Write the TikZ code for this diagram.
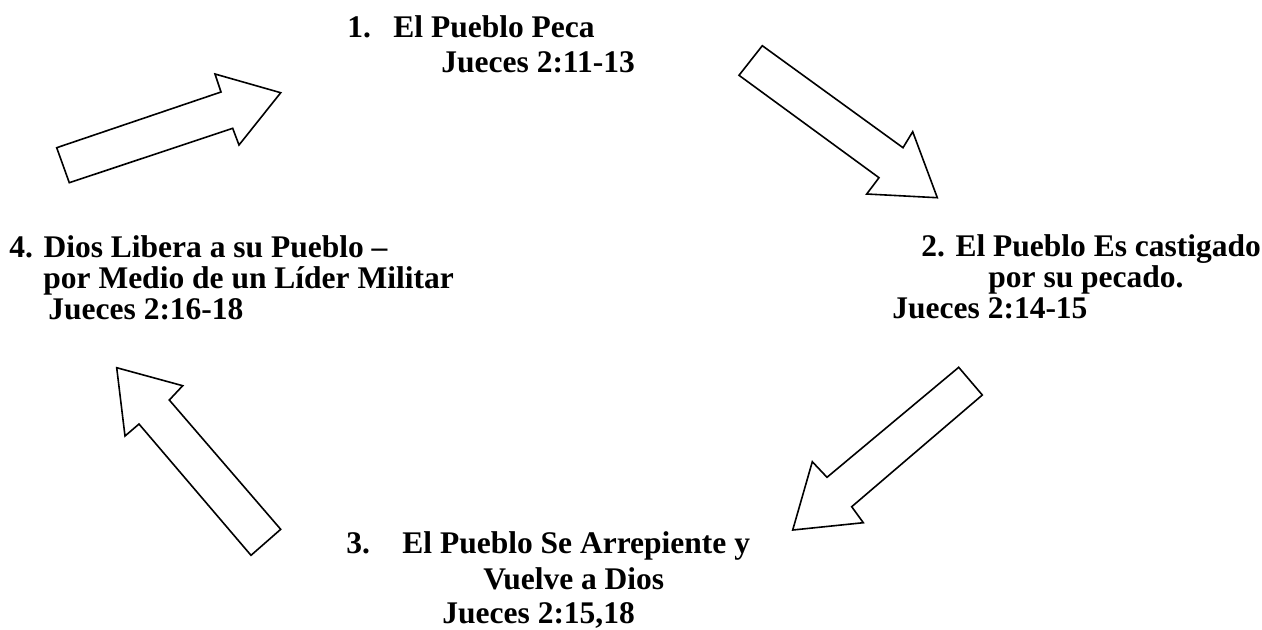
\documentclass[tikz,border=0pt]{standalone}
\usepackage{fontspec}
\setmainfont{Liberation Serif}
\usepackage{tikz}

\begin{document}
\begin{tikzpicture}[x=0.5pt,y=-0.5pt,
  lbl/.style={anchor=base west,inner sep=0pt,font=\fontsize{15.75}{18}\selectfont\bfseries},
  blockarrow/.style={draw=black,fill=white,line width=0.8pt,line join=miter}]
\useasboundingbox (0,0) rectangle (1262,629);
\node[lbl] (0) at (347,37) {1.};
\node[lbl] (1) at (393,37) {El Pueblo Peca};
\node[lbl] (2) at (441,72.5) {Jueces 2:11-13};
\node[lbl] (3) at (921,256) {2. El Pueblo Es castigado};
\node[lbl] (4) at (988,287) {por su pecado.};
\node[lbl] (5) at (892,318) {Jueces 2:14-15};
\node[lbl] (6) at (346,553) {3.};
\node[lbl] (7) at (402,553) {El Pueblo Se Arrepiente y};
\node[lbl] (8) at (483,589) {Vuelve a Dios};
\node[lbl] (9) at (442,623) {Jueces 2:15,18};
\node[lbl] (10) at (9,257) {4. Dios Libera a su Pueblo –};
\node[lbl] (11) at (43,288) {por Medio de un Líder Militar};
\node[lbl] (12) at (48,319) {Jueces 2:16-18};

\path [blockarrow] (56.7,147.7) -- (221,92) -- (215,74) -- (280.7,92.7) -- (239,145) -- (232.7,128.3) -- (69.3,182.7) -- cycle;
\path [blockarrow] (762.3,45.7) -- (903,147.7) -- (912.7,131.7) -- (937.3,197.7) -- (866.7,194) -- (879,177.7) -- (739,75.3) -- cycle;
\path [blockarrow] (958.7,367.3) -- (827,477.3) -- (812.3,461.7) -- (792.7,530) -- (863.3,522.7) -- (851.7,506.7) -- (982.3,395) -- cycle;
\path [blockarrow] (280.7,529.3) -- (169.3,400) -- (182.7,385.7) -- (116.7,367.7) -- (125,436) -- (139,424) -- (251,555.3) -- cycle;
\end{tikzpicture}
\end{document}
